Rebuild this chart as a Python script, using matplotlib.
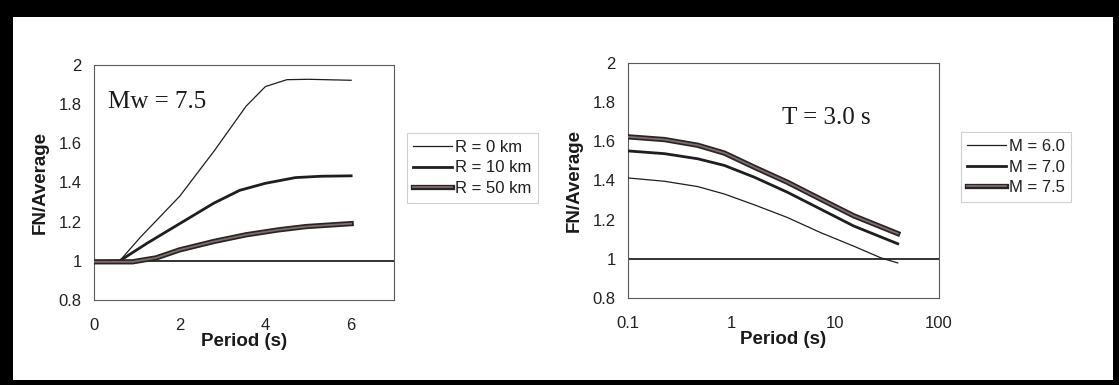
import matplotlib
matplotlib.use("Agg")
import matplotlib.pyplot as plt
import matplotlib.patheffects as pe
from matplotlib.patches import Rectangle

# ---------------- data ----------------
# Left panel: Mw = 7.5, FN/Average vs period for different distances
r0_period = [0, 0.6, 1.08, 2.0, 2.8, 3.55, 4.0, 4.5, 5.0, 6.0]
r0_ratio = [0.995, 1.0, 1.12, 1.33, 1.56, 1.79, 1.89, 1.925, 1.927, 1.922]
r10_period = [0, 0.6, 1.24, 2.0, 2.8, 3.4, 4.0, 4.7, 5.3, 6.0]
r10_ratio = [0.995, 1.0, 1.09, 1.19, 1.295, 1.36, 1.396, 1.425, 1.432, 1.434]
r50_period = [0, 0.9, 1.45, 2.0, 2.8, 3.55, 4.3, 4.95, 6.0]
r50_ratio = [0.995, 0.995, 1.015, 1.056, 1.099, 1.133, 1.158, 1.175, 1.19]
left_labels = ["R = 0 km", "R = 10 km", "R = 50 km"]
left_xticks = [0, 2, 4, 6]

# Right panel: T = 3.0 s, FN/Average vs (log) period axis for magnitudes
m_period = [0.1, 0.225, 0.47, 0.85, 1.65, 3.45, 7.2, 15, 40]
m75_ratio = [1.623, 1.609, 1.580, 1.540, 1.468, 1.391, 1.305, 1.22, 1.129]
m70_ratio = [1.551, 1.537, 1.511, 1.477, 1.417, 1.34, 1.254, 1.168, 1.077]
m60_period = [0.1, 0.225, 0.47, 0.85, 1.65, 3.45, 7.2, 15, 27.5, 40]
m60_ratio = [1.413, 1.396, 1.369, 1.331, 1.276, 1.211, 1.134, 1.065, 1.005, 0.979]
right_labels = ["M = 6.0", "M = 7.0", "M = 7.5"]
right_xticks = [0.1, 1, 10, 100]
right_xticklabels = ["0.1", "1", "10", "100"]

yticks = [0.8, 1.0, 1.2, 1.4, 1.6, 1.8, 2.0]
yticklabels = ["0.8", "1", "1.2", "1.4", "1.6", "1.8", "2"]

# ---------------- style ----------------
plt.rcParams["font.family"] = ["Liberation Sans", "DejaVu Sans"]
W, H = 1119, 385
fig = plt.figure(figsize=(W / 100, H / 100), dpi=100)
fig.patch.set_facecolor("white")

dark = "#1e1e1e"
thick_fx = [pe.Stroke(linewidth=3.8, foreground="#2a2424"), pe.Normal()]


def px_axes(x0, y0, x1, y1):
    return fig.add_axes([x0 / W, 1 - y1 / H, (x1 - x0) / W, (y1 - y0) / H])


def style_axes(ax):
    for s in ax.spines.values():
        s.set_color("#5a5a5a")
        s.set_linewidth(0.8)
    ax.set_ylim(0.8, 2.0)
    ax.set_yticks(yticks)
    ax.set_yticklabels(yticklabels)
    ax.tick_params(axis="y", length=0, pad=9, labelsize=12, colors="#222222")
    ax.tick_params(axis="x", length=0, pad=13, labelsize=12, colors="#222222")
    ax.minorticks_off()
    ax.axhline(1.0, color="#111111", lw=1.2, zorder=1)
    ax.set_ylabel("FN/Average", fontsize=13.5, fontweight="bold", labelpad=7, color="#1a1a1a")
    ax.set_xlabel("Period (s)", fontsize=13.5, fontweight="bold", labelpad=0, color="#1a1a1a")


def add_legend(ax, cx, cy):
    leg = ax.legend(loc="center", bbox_to_anchor=(cx / W, 1 - cy / H),
                    bbox_transform=fig.transFigure, fontsize=12, frameon=True,
                    fancybox=False, edgecolor="#c4c4c4", handlelength=2.3,
                    handletextpad=0.2, labelspacing=0.35, borderpad=0.4)
    leg.get_frame().set_linewidth(0.8)
    for t in leg.get_texts():
        t.set_color("#1e1e1e")
    return leg


# ---- left panel ----
ax1 = px_axes(94, 65, 394, 300)
ax1.plot(r0_period, r0_ratio, color=dark, lw=0.9, label=left_labels[0], zorder=3)
ax1.plot(r10_period, r10_ratio, color=dark, lw=2.0, label=left_labels[1], zorder=3)
ax1.plot(r50_period, r50_ratio, color="#7e6e6e", lw=1.3, label=left_labels[2],
         path_effects=thick_fx, zorder=3)
ax1.set_xlim(0, 7)
ax1.set_xticks(left_xticks)
style_axes(ax1)
ax1.text(0.047, 0.843, "Mw = 7.5", transform=ax1.transAxes, ha="left", va="center",
         fontsize=18, family=["Liberation Serif", "DejaVu Serif"], color="#1a1a1a")
add_legend(ax1, 472.5, 168)

# ---- right panel ----
ax2 = px_axes(628, 63, 939, 298)
ax2.plot(m60_period, m60_ratio, color=dark, lw=0.9, label=right_labels[0], zorder=3)
ax2.plot(m_period, m70_ratio, color=dark, lw=2.0, label=right_labels[1], zorder=3)
ax2.plot(m_period, m75_ratio, color="#7e6e6e", lw=1.3, label=right_labels[2],
         path_effects=thick_fx, zorder=3)
ax2.set_xscale("log")
ax2.set_xlim(0.1, 100)
ax2.set_xticks(right_xticks)
ax2.set_xticklabels(right_xticklabels)
style_axes(ax2)
ax2.text(0.494, 0.766, "T = 3.0 s", transform=ax2.transAxes, ha="left", va="center",
         fontsize=18, family=["Liberation Serif", "DejaVu Serif"], color="#1a1a1a")
add_legend(ax2, 1016, 167)

# ---- black scan frame ----
for (x0, y0, x1, y1) in [(0, 0, W, 17), (0, 0, 13, H), (1113, 0, W, H), (0, 380, W, H)]:
    fig.patches.append(Rectangle((x0 / W, 1 - y1 / H), (x1 - x0) / W, (y1 - y0) / H,
                                 transform=fig.transFigure, facecolor="black",
                                 edgecolor="none", zorder=10))

fig.savefig("out.png", dpi=100, facecolor="white")
